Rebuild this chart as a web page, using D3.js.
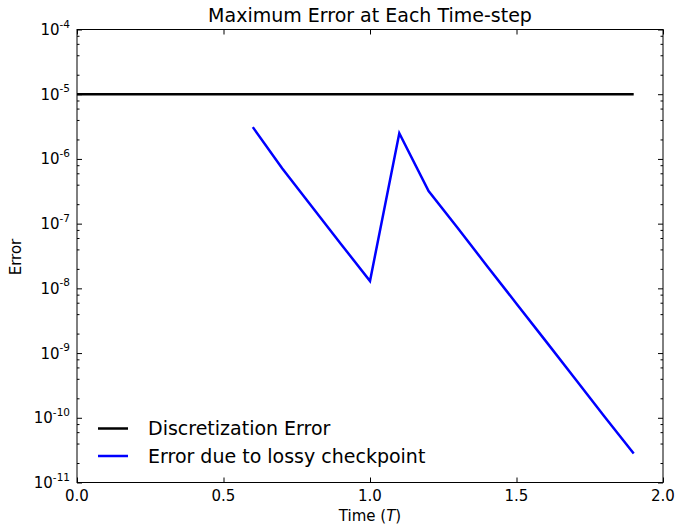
<!DOCTYPE html>
<html lang="en">
<head>
<meta charset="UTF-8">
<title>Maximum Error at Each Time-step</title>
<script src="https://d3js.org/d3.v7.min.js"></script>
<style>
    body { margin: 0; background: #fff; font-family: "DejaVu Sans", sans-serif; }
    svg text { font-family: "DejaVu Sans", sans-serif; fill: #000; }
</style>
</head>
<body>
<div id="chart"></div>
<script>
// data
const discTime = [0.0, 1.9];
const discError = [1e-5, 1e-5];

const lossyTime = [0.6, 0.7, 0.8, 0.9, 1.0, 1.1, 1.2, 1.3, 1.4, 1.5, 1.6, 1.7, 1.8, 1.9];
const lossyError = [3.1e-6, 7.2e-7, 1.88e-7, 4.9e-8, 1.3e-8, 2.5e-6, 3.2e-7,
                    8.5e-8, 2.2e-8, 5.8e-9, 1.53e-9, 4.0e-10, 1.05e-10, 2.8e-11];

const xTicks = [0.0, 0.5, 1.0, 1.5, 2.0];
const yExponents = [-4, -5, -6, -7, -8, -9, -10, -11];
const minorSubs = [2, 4, 6, 8];

const seriesNames = ["Discretization Error", "Error due to lossy checkpoint"];
const seriesColors = ["#000000", "#0000ff"];

const W = 678, H = 524;
const margin = { top: 29.5, right: 15, bottom: 41.5, left: 77 };

const svg = d3.select("#chart").append("svg")
    .attr("width", W).attr("height", H);

const x = d3.scaleLinear().domain([0, 2]).range([margin.left, W - margin.right]);
const y = d3.scaleLog().domain([1e-11, 1e-4]).range([H - margin.bottom, margin.top]);

const yMajor = yExponents.map(e => Math.pow(10, e));
const yMinor = [];
for (let e = -11; e < -4; e++) minorSubs.forEach(s => yMinor.push(s * Math.pow(10, e)));

// ticks (inward, all four sides)
const tickStyle = g => {
    g.select(".domain").remove();
    g.selectAll(".tick line").attr("stroke", "#000").attr("stroke-width", 1);
    g.selectAll(".tick text").remove();
};

svg.append("g").attr("transform", `translate(0,${H - margin.bottom})`)
    .call(d3.axisBottom(x).tickValues(xTicks).tickSize(-5)).call(tickStyle);
svg.append("g").attr("transform", `translate(0,${margin.top})`)
    .call(d3.axisTop(x).tickValues(xTicks).tickSize(-5)).call(tickStyle);
svg.append("g").attr("transform", `translate(${margin.left},0)`)
    .call(d3.axisLeft(y).tickValues(yMajor).tickSize(-5)).call(tickStyle);
svg.append("g").attr("transform", `translate(${W - margin.right},0)`)
    .call(d3.axisRight(y).tickValues(yMajor).tickSize(-5)).call(tickStyle);
svg.append("g").attr("transform", `translate(${margin.left},0)`)
    .call(d3.axisLeft(y).tickValues(yMinor).tickSize(-2.5)).call(tickStyle);
svg.append("g").attr("transform", `translate(${W - margin.right},0)`)
    .call(d3.axisRight(y).tickValues(yMinor).tickSize(-2.5)).call(tickStyle);

// x tick labels
svg.append("g").selectAll("text").data(xTicks).join("text")
    .attr("x", d => x(d)).attr("y", H - margin.bottom + 18.5)
    .attr("text-anchor", "middle").attr("font-size", 15)
    .text(d => d.toFixed(1));

// y tick labels 10^e
const yl = svg.append("g").selectAll("text").data(yExponents).join("text")
    .attr("x", margin.left - 7).attr("y", d => y(Math.pow(10, d)) + 5.5)
    .attr("text-anchor", "end").attr("font-size", 15);
yl.append("tspan").text("10");
yl.append("tspan").attr("font-size", 10.5).attr("dy", -7.5).text(d => d);

// lines
const line = d3.line().x(d => x(d[0])).y(d => y(d[1]));
svg.append("clipPath").attr("id", "clip").append("rect")
    .attr("x", margin.left).attr("y", margin.top)
    .attr("width", W - margin.left - margin.right)
    .attr("height", H - margin.top - margin.bottom);

svg.append("path")
    .datum(d3.zip(discTime, discError))
    .attr("d", line).attr("fill", "none")
    .attr("stroke", seriesColors[0]).attr("stroke-width", 2.5)
    .attr("clip-path", "url(#clip)");

svg.append("path")
    .datum(d3.zip(lossyTime, lossyError))
    .attr("d", line).attr("fill", "none")
    .attr("stroke", seriesColors[1]).attr("stroke-width", 2.5)
    .attr("clip-path", "url(#clip)");

// frame
svg.append("rect")
    .attr("x", margin.left).attr("y", margin.top)
    .attr("width", W - margin.left - margin.right)
    .attr("height", H - margin.top - margin.bottom)
    .attr("fill", "none").attr("stroke", "#000").attr("stroke-width", 1);

// legend
const leg = svg.append("g").selectAll("g").data(seriesNames).join("g")
    .attr("transform", (d, i) => `translate(98,${428.5 + i * 27.5})`);
leg.append("line").attr("x1", 0).attr("x2", 30)
    .attr("stroke", (d, i) => seriesColors[i]).attr("stroke-width", 2.5);
leg.append("text").attr("x", 50).attr("y", 6.8).attr("font-size", 19).text(d => d);

// title and axis labels
svg.append("text").attr("x", (margin.left + W - margin.right) / 2).attr("y", 22)
    .attr("text-anchor", "middle").attr("font-size", 19)
    .text("Maximum Error at Each Time-step");

const xl = svg.append("text").attr("x", (margin.left + W - margin.right) / 2).attr("y", 521)
    .attr("text-anchor", "middle").attr("font-size", 15);
xl.append("tspan").text("Time (");
xl.append("tspan").attr("font-style", "italic").text("T");
xl.append("tspan").text(")");

svg.append("text").attr("transform", "translate(21,257) rotate(-90)")
    .attr("text-anchor", "middle").attr("font-size", 15).text("Error");
</script>
</body>
</html>
